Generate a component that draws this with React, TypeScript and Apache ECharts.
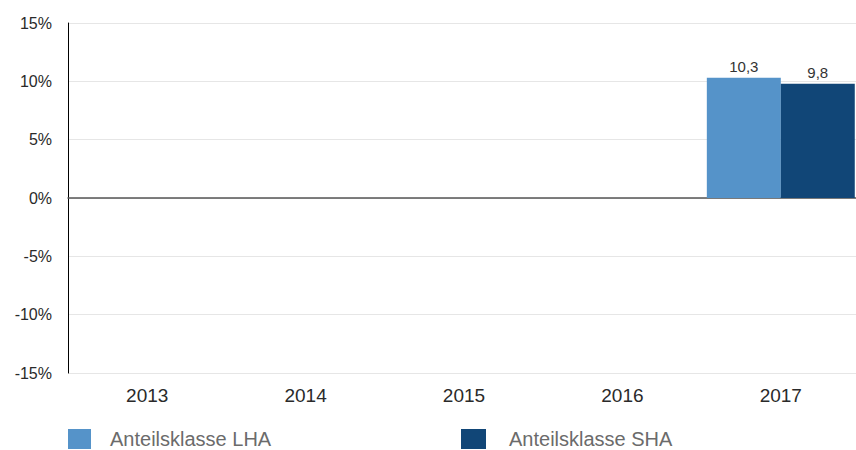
import React, { useEffect, useRef } from "react";
import * as echarts from "echarts";

const categories = ["2013", "2014", "2015", "2016", "2017"];
const seriesNames = ["Anteilsklasse LHA", "Anteilsklasse SHA"];
const lhaValues: (number | null)[] = [null, null, null, null, 10.3];
const shaValues: (number | null)[] = [null, null, null, null, 9.8];
const yMin = -15;
const yMax = 15;
const yInterval = 5;

const FONT = "'Liberation Sans', Arial, Helvetica, sans-serif";

export default function App() {
  const ref = useRef<HTMLDivElement>(null);
  useEffect(() => {
    if (!ref.current) return;
    const chart = echarts.init(ref.current, undefined, { renderer: "svg" });
    const labelFmt = (p: any) =>
      p.value == null ? "" : String(p.value).replace(".", ",");
    chart.setOption({
      animation: false,
      textStyle: { fontFamily: FONT },
      grid: {
        left: 68,
        width: 792,
        top: 23,
        bottom: 77,
        containLabel: false,
        outerBoundsMode: "none",
      },
      legend: [
        {
          data: [seriesNames[0]],
          left: 68,
          top: 429,
          padding: 0,
          icon: "rect",
          itemWidth: 23,
          itemHeight: 20,
          textStyle: { color: "#6b6b6b", fontSize: 20, fontFamily: FONT, padding: [0, 0, 0, 14] },
        },
        {
          data: [seriesNames[1]],
          left: 461,
          top: 429,
          padding: 0,
          icon: "rect",
          itemWidth: 25,
          itemHeight: 20,
          textStyle: { color: "#6b6b6b", fontSize: 20, fontFamily: FONT, padding: [0, 0, 0, 18] },
        },
      ],
      xAxis: [
        {
          type: "category",
          data: categories,
          position: "bottom",
          axisLine: { show: false, onZero: false },
          axisTick: { show: false },
          axisLabel: { color: "#2a2a2a", fontSize: 19, margin: 13, fontFamily: FONT },
          splitLine: { show: false },
        },
        {
          type: "category",
          data: categories,
          position: "bottom",
          axisLine: { show: true, onZero: true, lineStyle: { color: "#555", width: 1.5 } },
          axisTick: { show: false },
          axisLabel: { show: false },
          splitLine: { show: false },
        },
      ],
      yAxis: {
        type: "value",
        min: yMin,
        max: yMax,
        interval: yInterval,
        axisLine: { show: true, lineStyle: { color: "#000", width: 1 } },
        axisTick: { show: false },
        axisLabel: {
          formatter: "{value}%",
          color: "#2a2a2a",
          fontSize: 16,
          margin: 16,
          fontFamily: FONT,
        },
        splitLine: { show: true, lineStyle: { color: "#e6e6e6", width: 1 } },
      },
      series: [
        {
          name: seriesNames[0],
          type: "bar",
          data: lhaValues,
          barGap: "0%",
          barCategoryGap: "6.6%",
          itemStyle: { color: "#5593c9" },
          label: {
            show: true,
            position: "top",
            distance: 4,
            formatter: labelFmt,
            color: "#333",
            fontSize: 15,
            fontFamily: FONT,
          },
        },
        {
          name: seriesNames[1],
          type: "bar",
          data: shaValues,
          barGap: "0%",
          barCategoryGap: "6.6%",
          itemStyle: { color: "#114677" },
          label: {
            show: true,
            position: "top",
            distance: 4,
            formatter: labelFmt,
            color: "#333",
            fontSize: 15,
            fontFamily: FONT,
          },
        },
      ],
    });
    return () => chart.dispose();
  }, []);
  return <div ref={ref} style={{ width: 856, height: 450, position: "absolute", left: 0, top: 0 }} />;
}
